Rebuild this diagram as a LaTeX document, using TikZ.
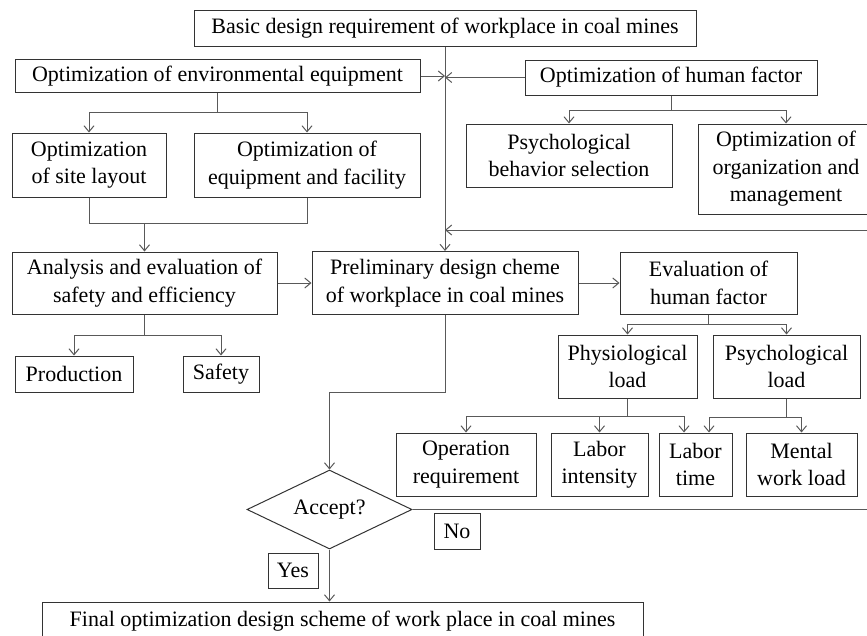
\documentclass[tikz,border=0pt]{standalone}
\usepackage{fontspec}
\setmainfont{Liberation Serif}
\usetikzlibrary{arrows.meta,shapes.geometric}
\tikzset{box/.style={draw=black!80,line width=1pt,align=center,inner sep=0pt,font=\fontsize{22}{27.5}\selectfont},
	line/.style={draw=black!65,line width=1pt},
	arr/.style={line,-{Straight Barb[length=6pt,width=10pt]}}}

\begin{document}
\begin{tikzpicture}[x=1pt,y=-1pt]
\useasboundingbox (0,0) rectangle (867,635);

\node[box,minimum width=502,minimum height=36] (basic) at (445,28) {Basic design requirement of workplace in coal mines};
\node[box,minimum width=405,minimum height=33] (envequip) at (217.5,76) {Optimization of environmental equipment};
\node[box,minimum width=292,minimum height=35] (humfac) at (671,77.5) {Optimization of human factor};
\node[box,minimum width=154,minimum height=64] (site) at (89,165) {Optimization\\of site layout};
\node[box,minimum width=226,minimum height=64] (facility) at (307,165) {Optimization of\\equipment and facility};
\node[box,minimum width=206,minimum height=63] (psybeh) at (569,155.5) {Psychological\\behavior selection};
\node[box,minimum width=176,minimum height=90] (orgman) at (786,169) {Optimization of\\organization and\\management};

\node[box,minimum width=265,minimum height=62] (analysis) at (144.5,283) {Analysis and evaluation of\\safety and efficiency};
\node[box,minimum width=266,minimum height=63] (prelim) at (445,283) {Preliminary design cheme\\of workplace in coal mines};
\node[box,minimum width=177,minimum height=62] (evalhf) at (708.5,283) {Evaluation of\\human factor};
\node[box,minimum width=118,minimum height=36] (production) at (74,374) {Production};
\node[box,minimum width=76,minimum height=36] (safety) at (221,374) {Safety};
\node[box,minimum width=139,minimum height=63] (physio) at (627.5,366.5) {Physiological\\load};
\node[box,minimum width=147,minimum height=63] (psycho) at (786.5,366.5) {Psychological\\load};

\node[box,minimum width=140,minimum height=63] (oper) at (466,464.5) {Operation\\requirement};
\node[box,minimum width=97,minimum height=63] (labint) at (599.5,464.5) {Labor\\intensity};
\node[box,minimum width=73,minimum height=63] (labtime) at (695.5,464.5) {Labor\\time};
\node[box,minimum width=111,minimum height=63] (mental) at (801.5,464.5) {Mental\\work load};

\node[box,shape=diamond,shape aspect=2,minimum width=165,minimum height=79] (accept) at (329.5,509.5) {Accept?};
\node[box,minimum width=46,minimum height=36] (no) at (457,531) {No};
\node[box,minimum width=50,minimum height=35] (yes) at (293,570.5) {Yes};
\node[box,minimum width=601,minimum height=38] (final) at (342.5,621) {Final optimization design scheme of work place in coal mines};

\coordinate (merge) at (144.5,223);
\coordinate (fb) at (445,230);

% upper part
\draw[arr] (basic.south) -- (prelim.north);
\draw[arr] (envequip.east) -- (envequip.east -| basic.south);
\draw[arr] (humfac.west) -- (humfac.west -| basic.south);
\draw[arr] (envequip.south) -- ++(0,19.5) -| (site.north);
\draw[arr] (envequip.south) -- ++(0,19.5) -| (facility.north);
\draw[line] (site.south) -- ++(0,26) -| (facility.south);
\draw[arr] (merge) -- (analysis.north);
\draw[arr] (humfac.south) -- ++(0,14.5) -| (psybeh.north);
\draw[arr] (humfac.south) -- ++(0,14.5) -| (orgman.north);

% middle part
\draw[arr] (analysis.east) -- (prelim.west);
\draw[arr] (prelim.east) -- (evalhf.west);
\draw[arr] (analysis.south) -- ++(0,21) -| (production.north);
\draw[arr] (analysis.south) -- ++(0,21) -| (safety.north);
\draw[arr] (evalhf.south) -- ++(0,10) -| (physio.north);
\draw[arr] (evalhf.south) -- ++(0,10) -| (psycho.north);
\draw[arr] (physio.south) -- ++(0,18) -| (oper.north);
\draw[arr] (physio.south) -- ++(0,18) -| (labint.north);
\draw[arr] (physio.south) -- ++(0,18) -| ([xshift=-11.5pt]labtime.north);
\draw[arr] (psycho.south) -- ++(0,19) -| ([xshift=13.5pt]labtime.north);
\draw[arr] (psycho.south) -- ++(0,19) -| (mental.north);

% decision
\draw[arr] (prelim.south) -- ++(0,77) -| (accept.north);
\draw[arr] (accept.south) -- (accept.south |- final.north);
\draw[arr] (accept.east) -- ++(490,0) |- (fb);

\end{tikzpicture}
\end{document}
